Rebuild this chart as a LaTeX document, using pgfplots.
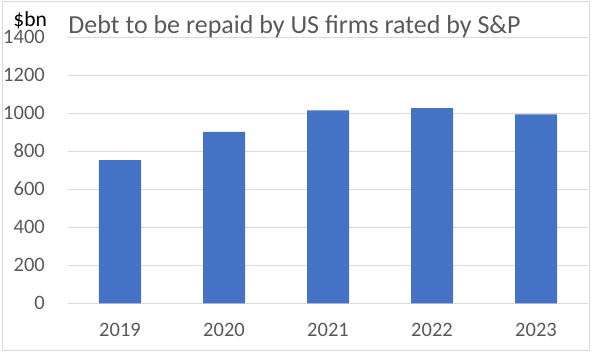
\documentclass[border=0pt]{standalone}
\usepackage{pgfplots}
\pgfplotsset{compat=1.18}
\usepackage{fontspec}
\setmainfont{Carlito}
\definecolor{barblue}{HTML}{4472C4}
\definecolor{txtgray}{HTML}{595959}
\definecolor{gridgray}{HTML}{D9D9D9}
\begin{document}
\begin{tikzpicture}
\begin{axis}[
  at={(0,0)}, anchor=south west,
  scale only axis, width=520pt, height=266pt,
  xmin=-0.5, xmax=4.5, ymin=0, ymax=1400,
  ytick={0,200,...,1400},
  xtick={0,...,4}, xticklabels={2019,2020,2021,2022,2023},
  ymajorgrids, grid style={gridgray, line width=1pt},
  axis line style={draw=none},
  major tick length=0pt,
  tick label style={font=\fontsize{20.5}{24}\selectfont, text=txtgray},
  /pgf/number format/assume math mode=true,
  /pgf/number format/1000 sep={},
  yticklabel style={anchor=east, inner sep=0pt, xshift=-23pt, yshift=1pt},
  xticklabel style={anchor=north, inner sep=0pt, yshift=-19pt},
  ybar, bar width=42pt,
  clip=false,
]
\addplot[fill=barblue, draw=none] coordinates {(0,755) (1,903) (2,1017) (3,1028) (4,996)};
\end{axis}
\node[anchor=base west, inner sep=0pt, font=\fontsize{26}{30}\selectfont, text=txtgray] at (0.3pt,270pt) {Debt to be repaid by US firms rated by S\&P};
\node[anchor=base west, inner sep=0pt, font=\fontsize{21.5}{25}\selectfont, text=black] at (-54.7pt,277pt) {\$bn};
\draw[gridgray, line width=1pt] (-65.5pt,-47pt) rectangle (521.5pt,301.5pt);
\pgfresetboundingbox
\path[use as bounding box] (-68pt,-49.5pt) rectangle (524pt,303.5pt);
\end{tikzpicture}
\end{document}
